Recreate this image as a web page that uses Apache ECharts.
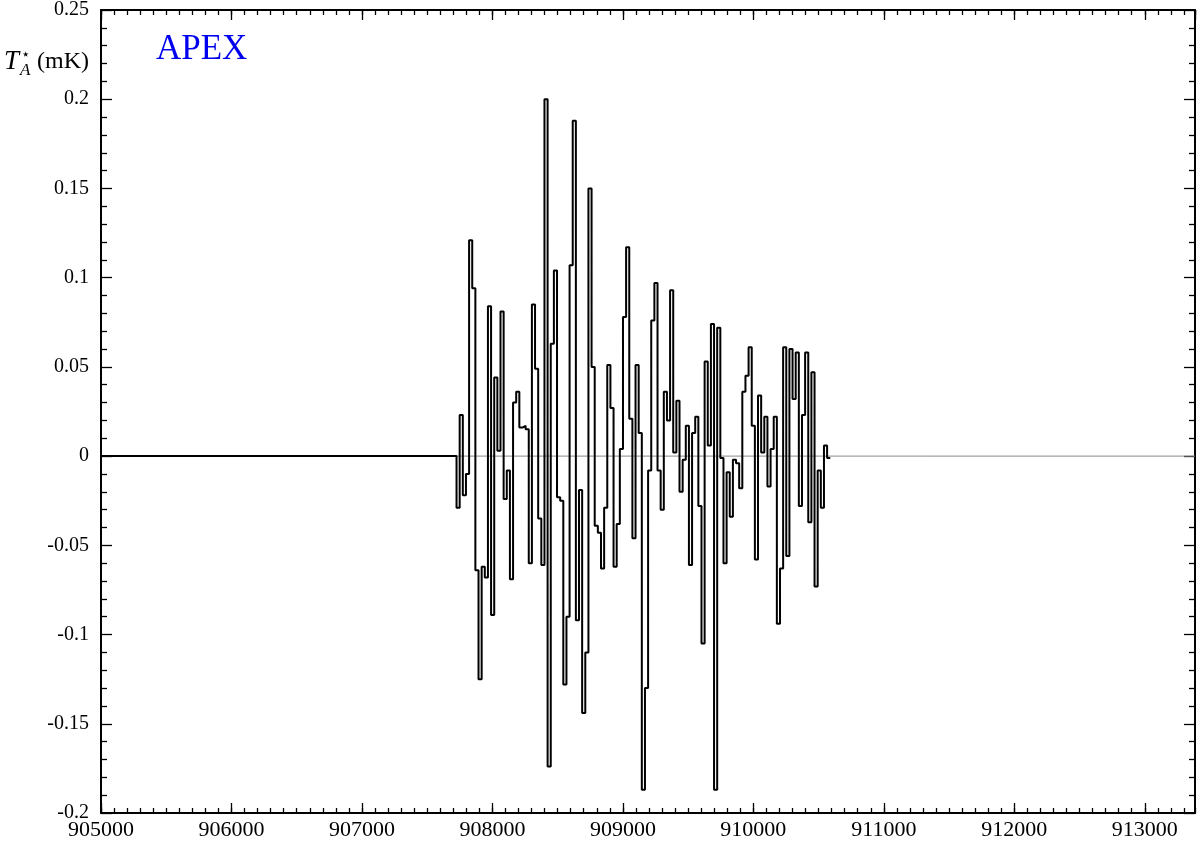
<!DOCTYPE html>
<html>
<head>
<meta charset="utf-8">
<title>APEX spectrum</title>
<script src="https://cdn.jsdelivr.net/npm/echarts@6/dist/echarts.min.js"></script>
<style>
  html, body { margin: 0; padding: 0; background: #fff; }
  #chart { width: 1200px; height: 844px; }
</style>
</head>
<body>
<div id="chart"></div>
<script>
// frequency axis (MHz)
const freqMin = 905000;
const freqMax = 913385;
const freqMajor = 1000;
const freqMinor = 100;

// channel grid
const startFreq = 907725;
const channelWidth = 24.07;

// T_A* (mK) per channel
const antennaTemp = [
  -0.029, 0.023, -0.022, -0.010, 0.121, 0.094, -0.064, -0.125, -0.062, -0.068,
  0.084, -0.089, 0.044, 0.003, 0.081, -0.024, -0.008, -0.069, 0.030, 0.036,
  0.016, 0.017, 0.015, -0.060, 0.085, 0.049, -0.035, -0.061, 0.200, -0.174,
  0.063, 0.104, -0.023, -0.025, -0.128, -0.090, 0.107, 0.188, -0.092, -0.019,
  -0.144, -0.110, 0.150, 0.050, -0.039, -0.043, -0.063, -0.029, 0.051, 0.027,
  -0.062, -0.038, 0.004, 0.078, 0.117, 0.021, -0.046, 0.051, 0.013, -0.187,
  -0.130, -0.008, 0.076, 0.097, -0.008, -0.030, 0.036, 0.020, 0.093, 0.002,
  0.031, -0.020, -0.002, 0.017, -0.061, 0.013, 0.022, -0.028, -0.105, 0.053,
  0.006, 0.074, -0.187, 0.072, -0.001, -0.060, -0.009, -0.034, -0.002, -0.004,
  -0.018, 0.036, 0.045, 0.061, 0.017, -0.058, 0.034, 0.002, 0.022, -0.017,
  0.004, 0.022, -0.094, -0.063, 0.061, -0.056, 0.060, 0.032, 0.058, -0.028,
  0.023, 0.058, -0.037, 0.047, -0.073, -0.008, -0.029, 0.006, -0.001
];

// intensity axis
const tempMin = -0.2;
const tempMax = 0.25;
const tempStep = 0.05;

const serif = 'Liberation Serif';

// flat baseline from the left edge, then one step per channel
const stepData = [[freqMin, 0]];
antennaTemp.forEach((v, i) => stepData.push([startFreq + i * channelWidth, v]));
stepData.push([startFreq + antennaTemp.length * channelWidth, antennaTemp[antennaTemp.length - 1]]);

function freqAxis (position, interval, tickLen, showLine, showLabel) {
  return {
    type: 'value',
    position: position,
    min: freqMin,
    max: freqMax,
    interval: interval,
    axisLine: { show: showLine, onZero: false, lineStyle: { color: '#000', width: 2 } },
    axisTick: { show: true, inside: true, length: tickLen, lineStyle: { color: '#000', width: 1.3 } },
    axisLabel: {
      show: showLabel,
      showMaxLabel: false,
      margin: 6,
      color: '#000',
      fontFamily: serif,
      fontSize: 22,
      formatter: v => String(v)
    },
    splitLine: { show: false }
  };
}

function tempAxis (position, showLabel) {
  return {
    type: 'value',
    position: position,
    min: tempMin,
    max: tempMax,
    interval: tempStep,
    axisLine: { show: true, onZero: false, lineStyle: { color: '#000', width: 2 } },
    axisTick: { show: true, inside: true, length: 11, lineStyle: { color: '#000', width: 1.3 } },
    minorTick: { show: true, splitNumber: 5, length: 6, lineStyle: { color: '#000', width: 1.3 } },
    axisLabel: {
      show: showLabel,
      margin: 12,
      color: '#000',
      fontFamily: serif,
      fontSize: 20,
      formatter: v => String(+v.toFixed(3))
    },
    splitLine: { show: false }
  };
}

const chart = echarts.init(document.getElementById('chart'));
chart.setOption({
  backgroundColor: '#fff',
  animation: false,
  grid: { left: 101, right: 5, top: 9, bottom: 31 },
  xAxis: [
    freqAxis('bottom', freqMajor, 10, true, true),
    freqAxis('bottom', freqMinor, 5, false, false),
    freqAxis('top', freqMajor, 10, true, false),
    freqAxis('top', freqMinor, 5, false, false)
  ],
  yAxis: [
    tempAxis('left', true),
    tempAxis('right', false)
  ],
  graphic: [
    { type: 'text', left: 156, top: 32, style: { text: 'APEX', fill: '#0000ee', font: '35px "Liberation Serif"' } },
    { type: 'text', x: 4, y: 62, style: { text: 'T', fill: '#000', font: 'italic 27px "Liberation Serif"', verticalAlign: 'middle' } },
    { type: 'text', x: 21, y: 55, style: { text: '⋆', fill: '#000', font: '15px "DejaVu Sans"', verticalAlign: 'middle' } },
    { type: 'text', x: 20, y: 71, style: { text: 'A', fill: '#000', font: 'italic 17px "Liberation Serif"', verticalAlign: 'middle' } },
    { type: 'text', x: 37, y: 62, style: { text: '(mK)', fill: '#000', font: '24px "Liberation Serif"', verticalAlign: 'middle' } }
  ],
  series: [
    {
      name: 'zero',
      type: 'line',
      silent: true,
      z: 1,
      showSymbol: false,
      data: [[freqMin, 0], [freqMax, 0]],
      lineStyle: { color: '#888', width: 1 }
    },
    {
      name: 'APEX',
      type: 'line',
      z: 2,
      step: 'end',
      showSymbol: false,
      data: stepData,
      lineStyle: { color: '#000', width: 2 }
    }
  ]
});
</script>
</body>
</html>
